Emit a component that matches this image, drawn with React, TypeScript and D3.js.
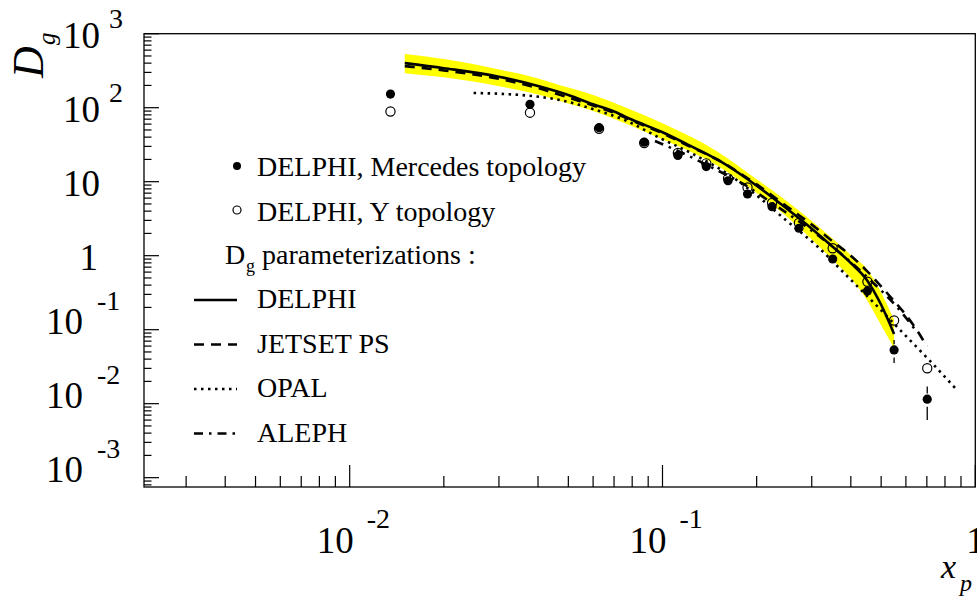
import React from "react";
import * as d3 from "d3";

// ---- data ----
const xPoints = [0.0135, 0.0377, 0.0627, 0.0874, 0.112, 0.138, 0.162, 0.187, 0.224, 0.273, 0.35, 0.452, 0.55, 0.702];
const mercedesY = [153, 111, 53.7, 34.2, 22.6, 16.0, 10.3, 6.82, 4.59, 2.35, 0.902, 0.333, 0.0532, 0.0115];
const mercedesErrHi: (number | null)[] = [null, null, null, null, null, null, null, null, null, null, null, null, 0.0726, 0.017];
const mercedesErrLo: (number | null)[] = [null, null, null, null, null, null, null, null, null, null, null, null, 0.0355, 0.00602];
const yTopologyY = [88.9, 85.6, 52.0, 33.3, 24.4, 17.7, 11.1, 8.35, 5.15, 2.77, 1.26, 0.445, 0.133, 0.0301];

const delphiX = [0.015, 0.02, 0.03, 0.04, 0.05, 0.06, 0.07, 0.08, 0.1, 0.12, 0.15, 0.2, 0.25, 0.3, 0.35, 0.4, 0.45, 0.5, 0.55];
const delphiY = [401, 342, 262, 196, 148, 111, 88.8, 68.6, 46.5, 32.0, 19.8, 8.83, 4.3, 2.32, 1.32, 0.797, 0.471, 0.217, 0.0875];

const bandX = [0.015, 0.02, 0.03, 0.04, 0.05, 0.06, 0.08, 0.1, 0.15, 0.2, 0.25, 0.3, 0.35, 0.4, 0.45, 0.5, 0.55];
const bandUpper = [530, 455, 329, 249, 187, 149, 92.2, 61.5, 25.4, 10.8, 5.43, 2.94, 1.69, 1.02, 0.663, 0.317, 0.135];
const bandLower = [293, 257, 195, 151, 114, 90.5, 56.1, 37.4, 16.4, 7.02, 3.35, 1.66, 0.883, 0.494, 0.254, 0.115, 0.0566];

const jetsetX = [0.015, 0.02, 0.03, 0.04, 0.05, 0.06, 0.07, 0.08, 0.1, 0.12, 0.15, 0.2, 0.25, 0.3, 0.35, 0.4, 0.45, 0.5, 0.55, 0.6, 0.65, 0.7];
const jetsetY = [365, 319, 246, 184, 137, 107, 85.3, 66.7, 45.1, 31.1, 19.8, 9.19, 4.62, 2.63, 1.56, 1.0, 0.625, 0.385, 0.244, 0.158, 0.099, 0.0595];

const opalX = [0.0249, 0.0368, 0.047, 0.0599, 0.0769, 0.0981, 0.1251, 0.1729, 0.2048, 0.2499, 0.3117, 0.3889, 0.471, 0.5828, 0.7164, 0.8738];
const opalY = [158, 146, 127, 96.0, 66.1, 38.9, 23.7, 10.5, 6.02, 2.94, 1.35, 0.532, 0.2367, 0.0931, 0.0378, 0.01531];

const alephX = [0.0946, 0.1197, 0.1449, 0.1835, 0.2238, 0.275, 0.3507, 0.4504, 0.5619, 0.6511];
const alephY = [35.5, 22.9, 15.3, 9.03, 5.15, 2.85, 1.31, 0.516, 0.2026, 0.0931];

const yDecadeExps = [-3, -2, -1, 0, 1, 2, 3];
const xDecadeExps = [-2, -1, 0];

const legendPointLabels = ["DELPHI, Mercedes topology", "DELPHI, Y topology"];
const legendTitle = ["D", "g", "parameterizations :"];
const legendLineLabels = ["DELPHI", "JETSET PS", "OPAL", "ALEPH"];
const legendDash = ["", "10,7", "2.5,4.5", "9,6,2.5,6"];

const FONT = "Liberation Serif";

export default function App() {
  const x = d3.scaleLog().domain([0.0022, 1]).range([144, 975.3]);
  const y = d3.scaleLog().domain([7.48e-4, 1000]).range([487, 33.7]);
  const [x0, x1] = x.range();
  const [yb, yt] = y.range();

  const line = d3
    .line<[number, number]>()
    .x((d) => x(d[0]))
    .y((d) => y(d[1]))
    .curve(d3.curveMonotoneX);

  const area = d3
    .area<number>()
    .x((_, i) => x(bandX[i]))
    .y0((_, i) => y(bandLower[i]))
    .y1((_, i) => y(bandUpper[i]))
    .curve(d3.curveMonotoneX);

  const zip = (a: number[], b: number[]) => a.map((v, i) => [v, b[i]] as [number, number]);

  const yMinor: number[] = [];
  for (let e = -4; e <= 2; e++)
    for (let m = 2; m <= 9; m++) {
      const v = m * Math.pow(10, e);
      if (v >= y.domain()[0] && v <= y.domain()[1]) yMinor.push(v);
    }
  const xMinor: number[] = [];
  for (let e = -3; e <= -1; e++)
    for (let m = 2; m <= 9; m++) {
      const v = m * Math.pow(10, e);
      if (v >= x.domain()[0] && v <= x.domain()[1]) xMinor.push(v);
    }

  const r = 4.6;
  const lw = 2.6;
  const T = { fontFamily: FONT } as React.CSSProperties;
  const TI = { fontFamily: FONT, fontStyle: "italic" } as React.CSSProperties;

  return (
    <svg width={977} height={600} style={{ position: "absolute", left: 0, top: 0, background: "#fff", fontFamily: FONT }}>
      <rect x={0} y={0} width={977} height={600} fill="#fff" />
      <path d={area(bandX) || ""} fill="#ffff00" stroke="none" />
      <path d={line(zip(opalX, opalY)) || ""} fill="none" stroke="#000" strokeWidth={lw} strokeDasharray="2.5,4.5" />
      <path d={line(zip(alephX, alephY)) || ""} fill="none" stroke="#000" strokeWidth={lw} strokeDasharray="9,6,2.5,6" />
      <path d={line(zip(jetsetX, jetsetY)) || ""} fill="none" stroke="#000" strokeWidth={lw} strokeDasharray="10,7" />
      <path d={line(zip(delphiX, delphiY)) || ""} fill="none" stroke="#000" strokeWidth={lw} />

      {xPoints.map((xv, i) => {
        const cy = y(mercedesY[i]);
        const cx = x(xv);
        const hi = mercedesErrHi[i];
        const lo = mercedesErrLo[i];
        return (
          <g key={"e" + i}>
            {hi !== null && y(hi) < cy - r - 1 && (
              <line x1={cx} x2={cx} y1={y(hi)} y2={cy - r - 1} stroke="#000" strokeWidth={1.3} />
            )}
            {lo !== null && y(lo) > cy + r + 3 && (
              <line x1={cx} x2={cx} y1={cy + r + 3} y2={y(lo)} stroke="#000" strokeWidth={1.3} />
            )}
          </g>
        );
      })}
      {xPoints.map((xv, i) => (
        <circle key={"m" + i} cx={x(xv)} cy={y(mercedesY[i])} r={r} fill="#000" />
      ))}
      {xPoints.map((xv, i) => (
        <circle key={"o" + i} cx={x(xv)} cy={y(yTopologyY[i])} r={r} fill="none" stroke="#000" strokeWidth={1.2} />
      ))}

      <rect x={x0} y={yt} width={x1 - x0} height={yb - yt} fill="none" stroke="#000" strokeWidth={1.3} />

      {yDecadeExps.map((e) => {
        const ty = y(Math.pow(10, e));
        return <line key={"yM" + e} x1={x0} x2={x0 + 15} y1={ty} y2={ty} stroke="#000" strokeWidth={1.2} />;
      })}
      {yMinor.map((v, i) => (
        <line key={"ym" + i} x1={x0} x2={x0 + 7.5} y1={y(v)} y2={y(v)} stroke="#000" strokeWidth={1.2} />
      ))}
      {xDecadeExps.map((e) => {
        const tx = x(Math.pow(10, e));
        return <line key={"xM" + e} x1={tx} x2={tx} y1={yb} y2={yb - 22} stroke="#000" strokeWidth={1.2} />;
      })}
      {xMinor.map((v, i) => (
        <line key={"xm" + i} x1={x(v)} x2={x(v)} y1={yb} y2={yb - 11} stroke="#000" strokeWidth={1.2} />
      ))}

      {yDecadeExps.map((e) => {
        const ty = y(Math.pow(10, e));
        if (e === 0)
          return (
            <text key={"yl" + e} x={98} y={ty + 14} fontSize={37} textAnchor="end" style={T}>1</text>
          );
        if (e === 1)
          return (
            <text key={"yl" + e} x={100} y={ty + 14} fontSize={37} textAnchor="end" style={T}>10</text>
          );
        if (e > 1)
          return (
            <g key={"yl" + e}>
              <text x={100} y={ty + 14} fontSize={37} textAnchor="end" style={T}>10</text>
              <text x={109} y={ty - 6} fontSize={28} style={T}>{String(e)}</text>
            </g>
          );
        return (
          <g key={"yl" + e}>
            <text x={83} y={ty + 4} fontSize={37} textAnchor="end" style={T}>10</text>
            <text x={97} y={ty - 20} fontSize={28} style={T}>{String(e)}</text>
          </g>
        );
      })}

      {xDecadeExps.map((e) => {
        const tx = x(Math.pow(10, e));
        if (e === 0)
          return (
            <text key={"xl" + e} x={tx - 9} y={553} fontSize={37} style={T}>1</text>
          );
        return (
          <g key={"xl" + e}>
            <text x={tx + 4} y={553} fontSize={37} textAnchor="end" style={T}>10</text>
            <text x={tx + 17} y={528} fontSize={28} style={T}>{String(e)}</text>
          </g>
        );
      })}

      <text x={941} y={578} fontSize={34} style={TI}>x</text>
      <text x={960} y={591} fontSize={24} style={TI}>p</text>
      <text transform="translate(43,78) rotate(-90)" fontSize={44} style={TI}>D</text>
      <text transform="translate(55,45) rotate(-90)" fontSize={25} style={TI}>g</text>

      <circle cx={237} cy={166} r={4} fill="#000" />
      <text x={257} y={176} fontSize={28} style={T}>{legendPointLabels[0]}</text>
      <circle cx={237} cy={210} r={4} fill="none" stroke="#000" strokeWidth={1.2} />
      <text x={257} y={221} fontSize={28} style={T}>{legendPointLabels[1]}</text>
      <text x={225} y={264} fontSize={28} style={T}>{legendTitle[0]}</text>
      <text x={246} y={272} fontSize={18} style={T}>{legendTitle[1]}</text>
      <text x={262} y={264} fontSize={28} style={T}>{legendTitle[2]}</text>
      {legendLineLabels.map((lab, i) => {
        const by = 308 + i * 44.5;
        return (
          <g key={"ll" + i}>
            <line x1={194} x2={237} y1={by - 8} y2={by - 8} stroke="#000" strokeWidth={lw} strokeDasharray={legendDash[i] || undefined} />
            <text x={257} y={by} fontSize={28} style={T}>{lab}</text>
          </g>
        );
      })}
    </svg>
  );
}
